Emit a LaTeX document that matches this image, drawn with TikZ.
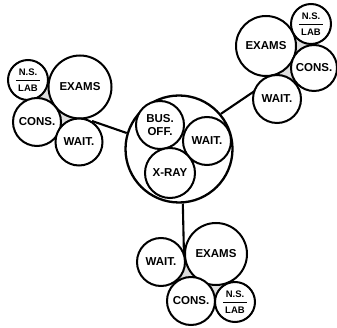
\documentclass[tikz,border=0pt]{standalone}
\usepackage{fontspec}
\setmainfont{Liberation Sans}
\usetikzlibrary{backgrounds}
\newcommand\nslab{\fontsize{9.5}{10}\selectfont\shortstack{N.S.\\[1.5pt]\rule{24pt}{1.4pt}\\[1pt]LAB}}
\begin{document}
\begin{tikzpicture}[x=1pt,y=-1pt,
  bub/.style={circle,draw=black,line width=2pt,fill=white,inner sep=0pt,
    font=\bfseries\fontsize{11.5}{12.5}\selectfont,align=center},
  hubstyle/.style={circle,draw=black,line width=2.3pt,inner sep=0pt,minimum size=107pt},
  link/.style={line width=2.1pt},
  gap/.style={fill=black!13}]
\useasboundingbox (0,0) rectangle (337,328);
% central
\node[hubstyle] (hub) at (179,149) {};
\node[bub,minimum size=48pt] (bus) at (160,125) {BUS.\\OFF.};
\node[bub,minimum size=48pt] (cwait) at (207,141) {WAIT.};
\node[bub,minimum size=50pt] (xray) at (170,173) {X-RAY};
% left cluster
\node[bub,minimum size=40pt] (lns) at (28,80) {\nslab};
\node[bub,minimum size=63pt] (lex) at (80,87) {EXAMS};
\node[bub,minimum size=48pt] (lcons) at (37,122) {CONS.};
\node[bub,minimum size=47pt] (lwait) at (79,142) {WAIT.};
% right cluster
\node[bub,minimum size=60pt] (rex) at (266,46) {EXAMS};
\node[bub,minimum size=40pt] (rns) at (311,24) {\nslab};
\node[bub,minimum size=46pt] (rcons) at (314,68) {CONS.};
\node[bub,minimum size=48pt] (rwait) at (277,99) {WAIT.};
% bottom cluster
\node[bub,minimum size=48pt] (bwait) at (161,262) {WAIT.};
\node[bub,minimum size=62pt] (bex) at (216,254) {EXAMS};
\node[bub,minimum size=48pt] (bcons) at (191,301) {CONS.};
\node[bub,minimum size=40pt] (bns) at (235,302) {\nslab};
% junction points
\coordinate (lj) at (92,121);
\coordinate (rj) at (262,86);
\coordinate (bj) at (184,256);
\begin{scope}[on background layer]
  \fill[gap] (lns.center) -- (lex.center) -- (lcons.center) -- cycle;
  \fill[gap] (lex.center) -- (lcons.center) -- (lwait.center) -- cycle;
  \fill[gap] (rex.center) -- (rns.center) -- (rcons.center) -- cycle;
  \fill[gap] (rex.center) -- (rcons.center) -- (rwait.center) -- cycle;
  \fill[gap] (bwait.center) -- (bex.center) -- (bcons.center) -- cycle;
  \fill[gap] (bex.center) -- (bcons.center) -- (bns.center) -- cycle;
  \draw[link] (lj) -- (hub.163);
  \draw[link] (hub.40) -- (rj);
  \draw[link] (hub.-86) -- (bj);
\end{scope}
\end{tikzpicture}
\end{document}
